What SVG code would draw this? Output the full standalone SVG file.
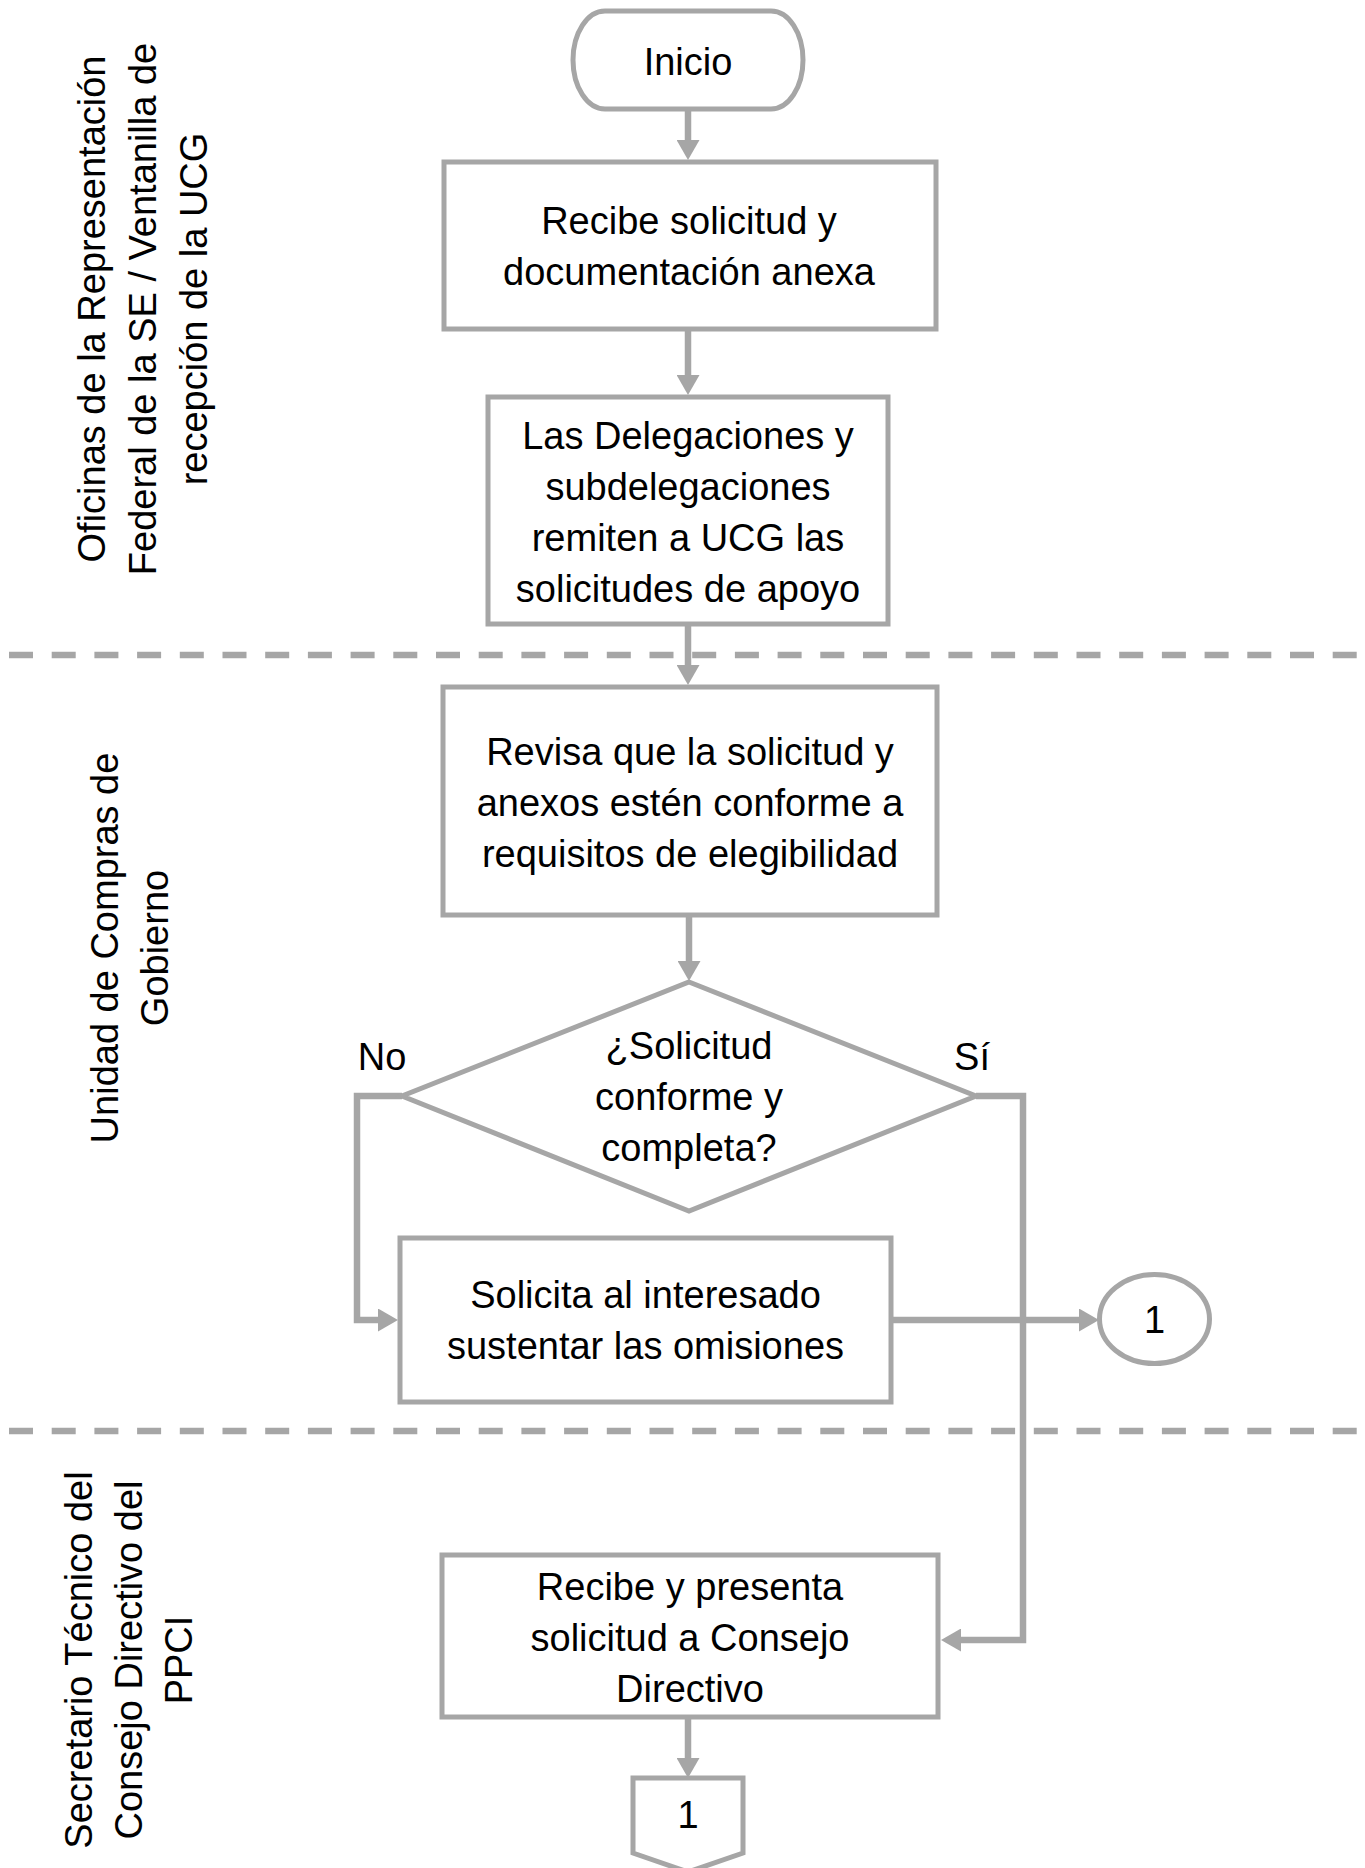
<svg xmlns="http://www.w3.org/2000/svg" width="1365" height="1868" viewBox="0 0 1365 1868">
<defs>
<style>
.shape{fill:#fff;stroke:#A6A6A6;stroke-width:5}
.conn{fill:none;stroke:#A6A6A6;stroke-width:6.5;stroke-linejoin:miter}
.lane{fill:none;stroke:#A6A6A6;stroke-width:6.5;stroke-dasharray:24 18.7}
text{font-family:"Liberation Sans",Arial,sans-serif;font-size:38px;fill:#000;text-anchor:middle}
</style>
<marker id="arr" markerUnits="userSpaceOnUse" markerWidth="20" markerHeight="23" refX="0" refY="11.5" orient="auto">
<path d="M0,0 L20,11.5 L0,23 Z" fill="#A6A6A6"/>
</marker>
</defs>
<rect width="1365" height="1868" fill="#fff"/>

<g id="lanes">
<line class="lane" x1="9" y1="655" x2="1365" y2="655"/>
<line class="lane" x1="9" y1="1431" x2="1365" y2="1431"/>
</g>

<g id="lane-labels">
<g id="lane1-label">
<text transform="translate(105,309) rotate(-90)">Oficinas de la Representación</text>
<text transform="translate(156,309) rotate(-90)">Federal de la SE / Ventanilla de</text>
<text transform="translate(207,309) rotate(-90)">recepción de la UCG</text>
</g>
<g id="lane2-label">
<text transform="translate(118,948) rotate(-90)">Unidad de Compras de</text>
<text transform="translate(168,948) rotate(-90)">Gobierno</text>
</g>
<g id="lane3-label">
<text transform="translate(92,1660) rotate(-90)">Secretario Técnico del</text>
<text transform="translate(142,1660) rotate(-90)">Consejo Directivo del</text>
<text transform="translate(192,1660) rotate(-90)">PPCI</text>
</g>
</g>

<g id="connectors">
<path class="conn" d="M688,109 V140" marker-end="url(#arr)"/>
<path class="conn" d="M688,329 V375" marker-end="url(#arr)"/>
<path class="conn" d="M688,624 V665" marker-end="url(#arr)"/>
<path class="conn" d="M689,915 V961" marker-end="url(#arr)"/>
<path class="conn" d="M402,1096 H357 V1320 H378" marker-end="url(#arr)"/>
<path class="conn" d="M891,1320 H1079" marker-end="url(#arr)"/>
<path class="conn" d="M976,1096 H1023 V1640 H961" marker-end="url(#arr)"/>
<path class="conn" d="M688,1717 V1758" marker-end="url(#arr)"/>
<text x="382" y="1070">No</text>
<text x="972" y="1070">Sí</text>
</g>

<g id="inicio">
<rect class="shape" x="573" y="11" width="230" height="98" rx="32" ry="49"/>
<text x="688" y="75">Inicio</text>
</g>

<g id="recibe">
<rect class="shape" x="444" y="162" width="492" height="167"/>
<text x="689" y="234">Recibe solicitud y</text>
<text x="689" y="285">documentación anexa</text>
</g>

<g id="delegaciones">
<rect class="shape" x="488" y="397" width="400" height="227"/>
<text x="688" y="449">Las Delegaciones y</text>
<text x="688" y="500">subdelegaciones</text>
<text x="688" y="551">remiten a UCG las</text>
<text x="688" y="602">solicitudes de apoyo</text>
</g>

<g id="revisa">
<rect class="shape" x="443" y="687" width="494" height="228"/>
<text x="690" y="765">Revisa que la solicitud y</text>
<text x="690" y="816">anexos estén conforme a</text>
<text x="690" y="867">requisitos de elegibilidad</text>
</g>

<g id="decision">
<polygon class="shape" points="689,982 976,1096 689,1211 402,1096"/>
<text x="689" y="1059">¿Solicitud</text>
<text x="689" y="1110">conforme y</text>
<text x="689" y="1161">completa?</text>
</g>

<g id="solicita">
<rect class="shape" x="400" y="1238" width="491" height="164"/>
<text x="645.5" y="1308">Solicita al interesado</text>
<text x="645.5" y="1359">sustentar las omisiones</text>
</g>

<g id="connector-1">
<ellipse class="shape" cx="1154.5" cy="1319" rx="55" ry="44.5"/>
<text x="1154.5" y="1333">1</text>
</g>

<g id="presenta">
<rect class="shape" x="442" y="1555" width="496" height="162"/>
<text x="690" y="1600">Recibe y presenta</text>
<text x="690" y="1651">solicitud a Consejo</text>
<text x="690" y="1702">Directivo</text>
</g>

<g id="offpage-1">
<polygon class="shape" points="633,1778 743,1778 743,1853 688,1872 633,1853"/>
<text x="688" y="1828">1</text>
</g>
</svg>
